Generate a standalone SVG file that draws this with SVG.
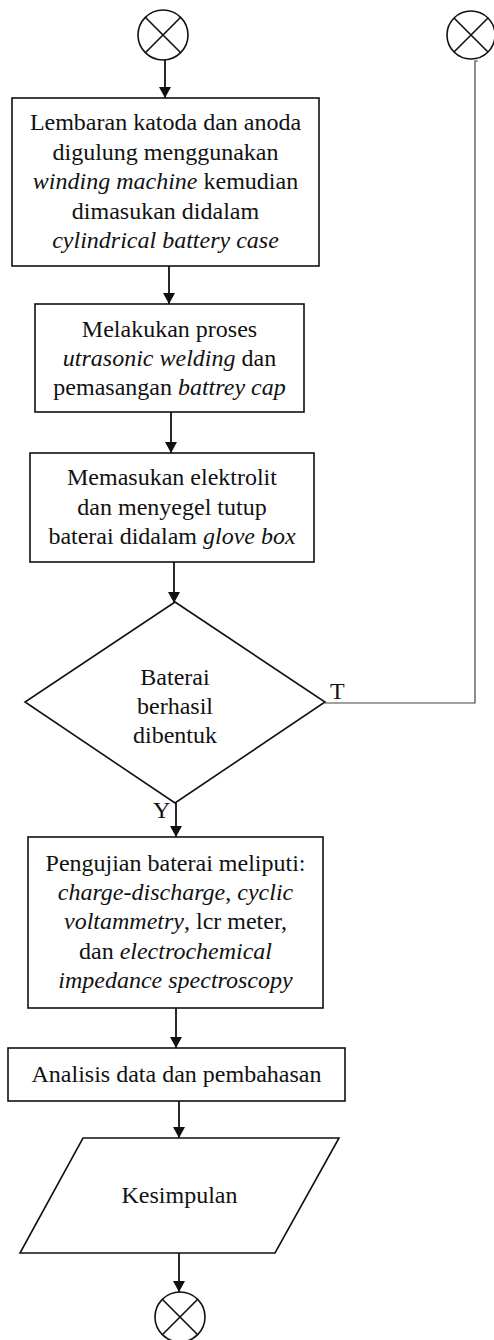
<svg xmlns="http://www.w3.org/2000/svg" width="494" height="1340" viewBox="0 0 494 1340">
<style>
.s{fill:#fff;stroke:#111;stroke-width:1.6}
.c{fill:none;stroke:#111;stroke-width:1.6}
.a{fill:none;stroke:#111;stroke-width:1.8}
.l{fill:none;stroke:#444;stroke-width:1.2}
text{font-family:"Liberation Serif","Times New Roman",serif;font-size:24px;fill:#111;text-anchor:middle}
.i{font-style:italic}
.lab{text-anchor:start}
</style>
<defs>
<marker id="ah" markerWidth="11" markerHeight="12" refX="11" refY="6" orient="auto" markerUnits="userSpaceOnUse">
<path d="M0,0 L11,6 L0,12 Z" fill="#111"/>
</marker>
</defs>
<rect width="494" height="1340" fill="#fff"/>
<g id="connectors">
<line class="a" x1="165" y1="60" x2="165" y2="98" marker-end="url(#ah)"/>
<line class="a" x1="169" y1="266" x2="169" y2="304" marker-end="url(#ah)"/>
<line class="a" x1="171" y1="412" x2="171" y2="453" marker-end="url(#ah)"/>
<line class="a" x1="174" y1="562" x2="174" y2="603" marker-end="url(#ah)"/>
<line class="a" x1="176" y1="803" x2="176" y2="837" marker-end="url(#ah)"/>
<line class="a" x1="176" y1="1008" x2="176" y2="1048" marker-end="url(#ah)"/>
<line class="a" x1="179" y1="1101" x2="179" y2="1138" marker-end="url(#ah)"/>
<line class="a" x1="179" y1="1253" x2="179" y2="1292" marker-end="url(#ah)"/>
<path class="l" d="M478,61 H475 V703 H325"/>
<text class="lab" x="330" y="699">T</text>
<text class="lab" x="153" y="818">Y</text>
</g>
<g id="start">
<circle class="c" cx="163" cy="35" r="25"/>
<path class="c" d="M145.3,17.3 L180.7,52.7 M180.7,17.3 L145.3,52.7"/>
</g>
<g id="connector-right">
<circle class="c" cx="471" cy="35" r="24"/>
<path class="c" d="M454,18 L488,52 M488,18 L454,52"/>
</g>
<g id="box1">
<rect class="s" x="12" y="98" width="307" height="168"/>
<text x="165.5" y="130">Lembaran katoda dan anoda</text>
<text x="165.5" y="160">digulung menggunakan</text>
<text x="165.5" y="189"><tspan class="i">winding machine</tspan> kemudian</text>
<text x="165.5" y="219">dimasukan didalam</text>
<text x="165.5" y="248" class="i">cylindrical battery case</text>
</g>
<g id="box2">
<rect class="s" x="35" y="304" width="269" height="108"/>
<text x="169.5" y="337">Melakukan proses</text>
<text x="169.5" y="366"><tspan class="i">utrasonic welding</tspan> dan</text>
<text x="169.5" y="395">pemasangan <tspan class="i">battrey cap</tspan></text>
</g>
<g id="box3">
<rect class="s" x="30" y="453" width="284" height="109"/>
<text x="172" y="485">Memasukan elektrolit</text>
<text x="172" y="515">dan menyegel tutup</text>
<text x="172" y="544">baterai didalam <tspan class="i">glove box</tspan></text>
</g>
<g id="decision">
<polygon class="s" points="175,602 325,702 175,803 25,702"/>
<text x="175" y="685">Baterai</text>
<text x="175" y="714">berhasil</text>
<text x="175" y="743">dibentuk</text>
</g>
<g id="box4">
<rect class="s" x="28" y="837" width="295" height="171"/>
<text x="175.5" y="871">Pengujian baterai meliputi:</text>
<text x="175.5" y="900"><tspan class="i">charge-discharge</tspan>, <tspan class="i">cyclic</tspan></text>
<text x="175.5" y="929"><tspan class="i">voltammetry</tspan>, lcr meter,</text>
<text x="175.5" y="959">dan <tspan class="i">electrochemical</tspan></text>
<text x="175.5" y="988" class="i">impedance spectroscopy</text>
</g>
<g id="box5">
<rect class="s" x="8" y="1048" width="337" height="53"/>
<text x="176.5" y="1082">Analisis data dan pembahasan</text>
</g>
<g id="output">
<polygon class="s" points="83,1138 339,1138 275,1253 20,1253"/>
<text x="179.5" y="1203">Kesimpulan</text>
</g>
<g id="end">
<circle class="c" cx="180" cy="1317" r="25"/>
<path class="c" d="M162.3,1299.3 L197.7,1334.7 M197.7,1299.3 L162.3,1334.7"/>
</g>
</svg>
